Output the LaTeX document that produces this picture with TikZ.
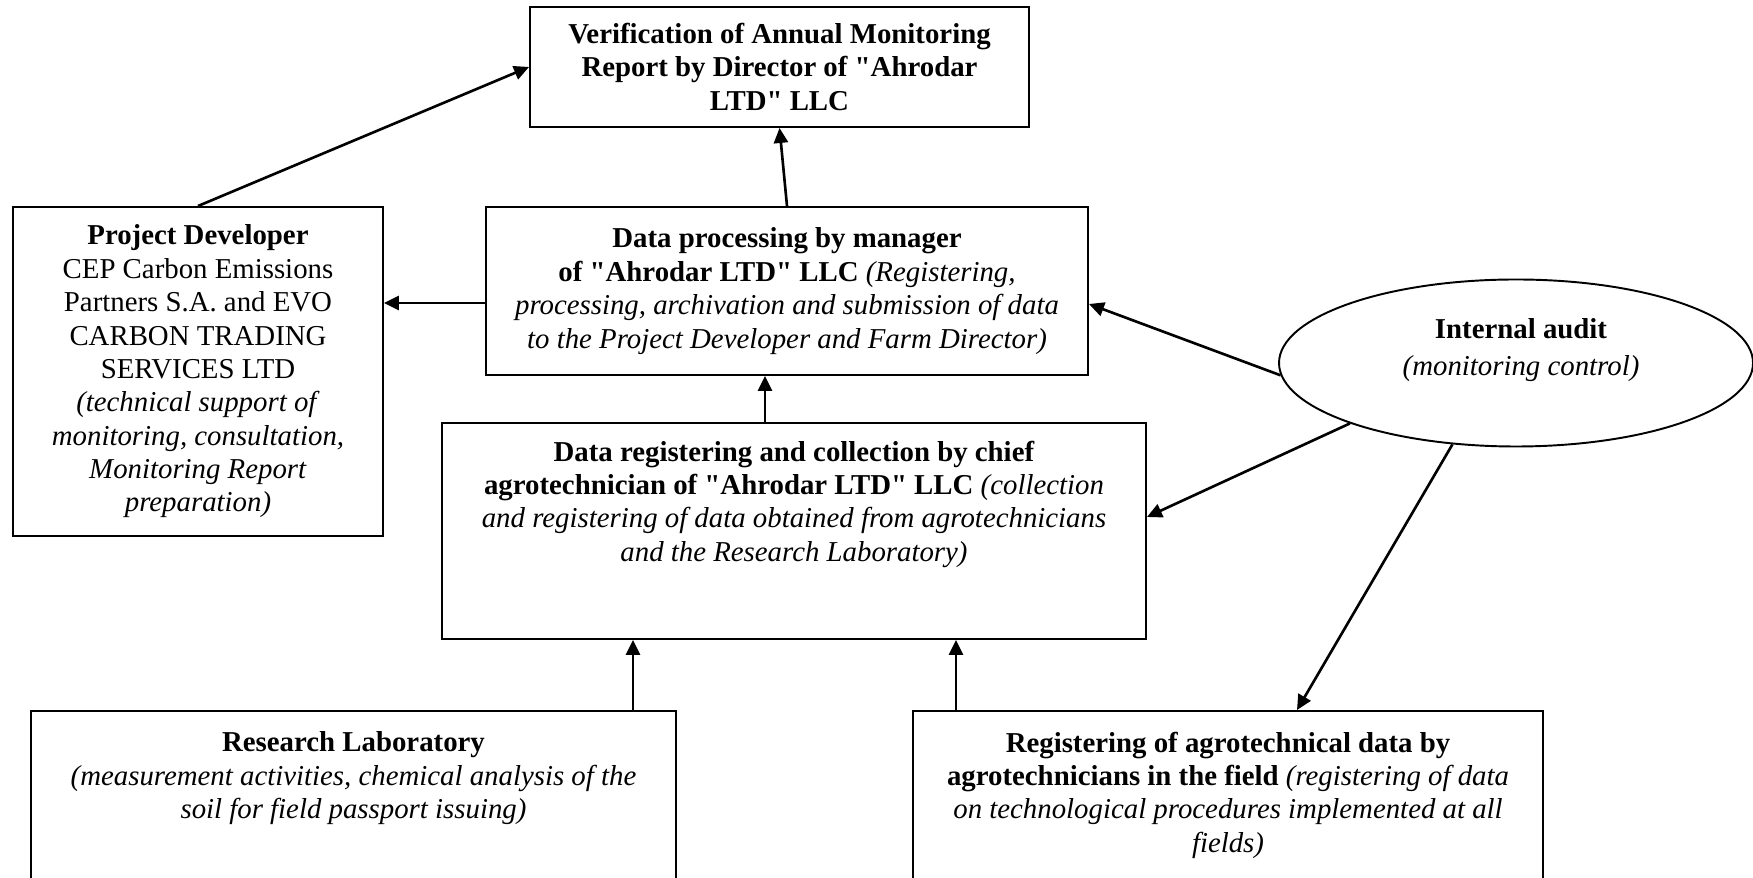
\documentclass[tikz,border=0pt]{standalone}
\usepackage{fontspec}
\setmainfont{Liberation Serif}
\usetikzlibrary{positioning,shapes.geometric,arrows.meta}
\newcommand{\qt}{\textquotedbl}
\tikzset{
    box/.style={draw, line width=0.55pt, inner sep=0pt, align=center},
    txt/.style={inner sep=0pt, align=center},
    arr/.style={-{Triangle[length=0.15cm,width=0.14cm]}, line width=0.75pt},
}
\begin{document}
\begin{tikzpicture}[font=\fontsize{8.2}{9.5}\selectfont]
                \useasboundingbox (0,0) rectangle (17.53,8.78);
                \clip (0,0) rectangle (17.53,8.78);

                \node[box, minimum width=4.99cm, minimum height=1.20cm] (verif) at (7.795,8.11)
                    {\textbf{Verification of Annual Monitoring}\\ \textbf{Report by Director of \qt Ahrodar}\\ \textbf{LTD\qt\ LLC}};
                \node[box, minimum width=3.70cm, minimum height=3.29cm] (dev) at (1.98,5.065)
                    {\textbf{Project Developer}\\ CEP Carbon Emissions\\ Partners S.A. and EVO\\ CARBON TRADING\\ SERVICES LTD\\
                     \textit{(technical support of}\\ \textit{monitoring, consultation,}\\ \textit{Monitoring Report}\\ \textit{preparation)}};
                \node[box, minimum width=6.02cm, minimum height=1.68cm] (proc) at (7.87,5.87)
                    {\textbf{Data processing by manager}\\ \textbf{of \qt Ahrodar LTD\qt\ LLC} \textit{(Registering,}\\
                     \textit{processing, archivation and submission of data}\\ \textit{to the Project Developer and Farm Director)}};
                \node[box, minimum width=7.04cm, minimum height=2.16cm] (chief) at (7.94,3.47) {};
                \node[txt, below=0.18cm of chief.north] (chiefTxt)
                    {\textbf{Data registering and collection by chief}\\ \textbf{agrotechnician of \qt Ahrodar LTD\qt\ LLC} \textit{(collection}\\
                     \textit{and registering of data obtained from agrotechnicians}\\ \textit{and the Research Laboratory)}};
                \node[box, minimum width=6.45cm, minimum height=1.89cm] (lab) at (3.535,0.725) {};
                \node[txt, below=0.21cm of lab.north] (labTxt)
                    {\textbf{Research Laboratory}\\ \textit{(measurement activities, chemical analysis of the}\\ \textit{soil for field passport issuing)}};
                \node[box, minimum width=6.30cm, minimum height=1.89cm] (field) at (12.28,0.725) {};
                \node[txt, below=0.21cm of field.north] (fieldTxt)
                    {\textbf{Registering of agrotechnical data by}\\ \textbf{agrotechnicians in the field} \textit{(registering of data}\\
                     \textit{on technological procedures implemented at all}\\ \textit{fields)}};
                \node[ellipse, draw, line width=0.55pt, inner sep=0pt, minimum width=4.74cm, minimum height=1.67cm] (audit) at (15.16,5.15) {};
                \node[txt] (auditTxt) at ([xshift=0.05cm,yshift=0.13cm]audit.center)
                    {\textbf{Internal audit}\\[0.04cm] \textit{(monitoring control)}};

                \draw[arr] (dev.north) -- (verif.west);
                \draw[arr] (proc.north) -- (verif.south);
                \draw[arr] ([yshift=-0.12cm]proc.west) -- ([yshift=-0.12cm]proc.west -| dev.east);
                \draw[arr] (7.65,0 |- chief.north) -- (7.65,0 |- proc.south);
                \draw[arr] (6.33,0 |- lab.north) -- (6.33,0 |- chief.south);
                \draw[arr] (9.56,0 |- field.north) -- (9.56,0 |- chief.south);
                \draw[arr] (audit.183) -- ([yshift=-0.13cm]proc.east);
                \draw[arr] (audit.200) -- ([yshift=0.14cm]chief.east);
                \draw[arr] (audit.232) -- (12.97,0 |- field.north);
            \end{tikzpicture}
\end{document}
